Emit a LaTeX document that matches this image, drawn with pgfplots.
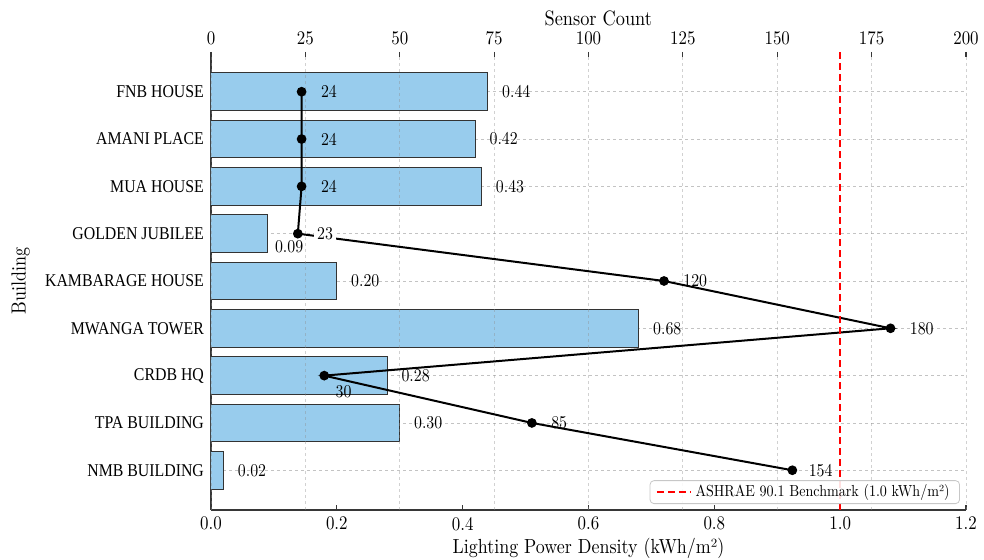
\documentclass[border=0pt]{standalone}
\usepackage{fontspec}
\setmainfont{lmroman10-regular.otf}[FakeStretch=0.88]
\newfontfamily\bldfont{Liberation Serif}[FakeStretch=0.88]
\usepackage{pgfplots}
\pgfplotsset{compat=1.18}
\definecolor{barblue}{RGB}{152,204,237}
\definecolor{axgray}{RGB}{55,55,55}
\definecolor{gridgray}{RGB}{195,195,195}
\begin{document}
\begin{tikzpicture}
\path[use as bounding box] (-105.5pt,-25pt) rectangle (386.5pt,255pt);
% ---------- bars: Lighting Power Density ----------
\begin{axis}[
  width=377.5pt, height=229pt, scale only axis,
  xmin=0, xmax=1.2, ymin=-0.84, ymax=8.84,
  axis x line*=bottom, axis y line*=left,
  axis line style={axgray, line width=0.6pt},
  tick align=inside, major tick length=2.5pt,
  tick style={axgray, line width=0.6pt},
  /pgf/number format/assume math mode=true,
  xtick={0,0.2,0.4,0.6,0.8,1.0,1.2},
  xticklabel style={/pgf/number format/.cd, fixed, fixed zerofill, precision=1, assume math mode=true},
  ticklabel style={font=\fontsize{9.6}{11}\selectfont},
  ytick={0,1,2,3,4,5,6,7,8},
  yticklabels={NMB BUILDING, TPA BUILDING, CRDB HQ, MWANGA TOWER, KAMBARAGE HOUSE, GOLDEN JUBILEE, MUA HOUSE, AMANI PLACE, FNB HOUSE},
  yticklabel style={font=\bldfont\fontsize{9}{10}\selectfont},
  ymajorgrids,
  grid style={gridgray, dash pattern=on 1.5pt off 1.5pt, line width=0.4pt},
  xlabel={Lighting Power Density (kWh/m²)},
  xlabel style={at={(axis description cs:0.5,-0.083)}, anchor=center, font=\fontsize{10.2}{12}\selectfont},
  ylabel={Building},
  ylabel style={at={(axis description cs:-0.252,0.5)}, anchor=center, font=\fontsize{10.2}{12}\selectfont},
]
\addplot[xbar, bar width=0.8, fill=barblue, draw=black!80, line width=0.5pt]
  coordinates {(0.02,0) (0.30,1) (0.28,2) (0.68,3) (0.20,4) (0.09,5) (0.43,6) (0.42,7) (0.44,8)};
\begin{scope}[every node/.style={font=\fontsize{9}{10}\selectfont, anchor=west, inner sep=0pt}]
\node[xshift=7pt] at (axis cs:0.02,0) {0.02};
\node[xshift=7pt] at (axis cs:0.30,1) {0.30};
\node[xshift=7pt] at (axis cs:0.28,2) {0.28};
\node[xshift=7pt] at (axis cs:0.68,3) {0.68};
\node[xshift=7pt] at (axis cs:0.20,4) {0.20};
\node[xshift=3.5pt, yshift=-6.5pt] at (axis cs:0.09,5) {0.09};
\node[xshift=7pt] at (axis cs:0.43,6) {0.43};
\node[xshift=7pt] at (axis cs:0.42,7) {0.42};
\node[xshift=7pt] at (axis cs:0.44,8) {0.44};
\end{scope}
\end{axis}
% ---------- line: Sensor Count ----------
\begin{axis}[
  width=377.5pt, height=229pt, scale only axis,
  xmin=0, xmax=200, ymin=-0.84, ymax=8.84,
  axis x line*=top, axis y line=none,
  x axis line style={draw=none},
  tick align=inside, major tick length=2.5pt,
  tick style={axgray, line width=0.6pt},
  /pgf/number format/assume math mode=true,
  xtick={0,25,50,75,100,125,150,175,200},
  xticklabel style={/pgf/number format/assume math mode=true},
  ticklabel style={font=\fontsize{9.6}{11}\selectfont},
  xmajorgrids,
  grid style={black!45, opacity=0.4, dash pattern=on 1.5pt off 1.5pt, line width=0.4pt},
  xlabel={Sensor Count},
  xlabel style={at={(axis description cs:0.513,1.074)}, anchor=center, font=\fontsize{10.4}{12}\selectfont},
  legend style={at={(axis description cs:0.992,0.013)}, anchor=south east,
    draw=black!22, rounded corners=2pt, fill=white, fill opacity=0.88, text opacity=1,
    font=\fontsize{8}{9}\selectfont, inner xsep=3pt, inner ysep=0pt},
  legend cell align=left,
  legend image code/.code={\draw[#1] (0pt,0pt) -- (17pt,0pt);},
]
\addplot[black, line width=1pt, mark=*, mark size=1.9pt, forget plot]
  coordinates {(24,8) (24,7) (24,6) (23,5) (120,4) (180,3) (30,2) (85,1) (154,0)};
\addplot[red, line width=0.75pt, dash pattern=on 3.5pt off 2pt]
  coordinates {(166.667,-0.84) (166.667,8.84)};
\addlegendentry{ASHRAE 90.1 Benchmark (1.0 kWh/m²)}
\begin{scope}[every node/.style={font=\fontsize{9}{10}\selectfont, anchor=west, inner sep=0pt}]
\node[xshift=9.5pt] at (axis cs:24,8) {24};
\node[xshift=9.5pt] at (axis cs:24,7) {24};
\node[xshift=9.5pt] at (axis cs:24,6) {24};
\node[xshift=8pt, fill=white, inner sep=1.5pt] at (axis cs:23,5) {23};
\node[xshift=9.5pt] at (axis cs:120,4) {120};
\node[xshift=9.5pt] at (axis cs:180,3) {180};
\node[xshift=5.5pt, yshift=-8pt] at (axis cs:30,2) {30};
\node[xshift=9.5pt] at (axis cs:85,1) {85};
\node[xshift=8pt] at (axis cs:154,0) {154};
\end{scope}
\end{axis}
\end{tikzpicture}
\end{document}
